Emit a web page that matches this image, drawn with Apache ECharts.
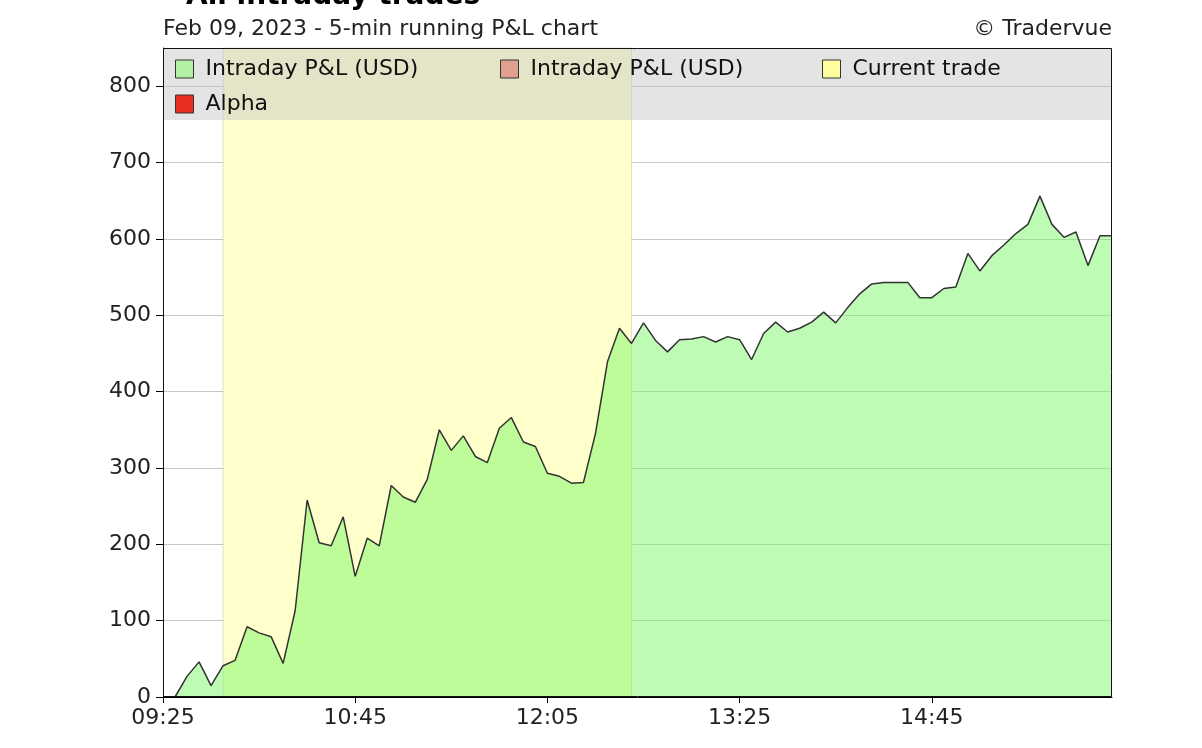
<!DOCTYPE html>
<html>
<head>
<meta charset="utf-8">
<script src="https://cdn.jsdelivr.net/npm/echarts@6/dist/echarts.min.js"></script>
<style>
html,body{margin:0;padding:0;background:#fff;}
#item-pnl{width:1202px;height:748px;}
</style>
</head>
<body>
<div id="item-pnl"></div>
<script>
var times = ['09:25','09:30','09:35','09:40','09:45','09:50','09:55',
	'10:00','10:05','10:10','10:15','10:20','10:25','10:30','10:35','10:40','10:45','10:50','10:55',
	'11:00','11:05','11:10','11:15','11:20','11:25','11:30','11:35','11:40','11:45','11:50','11:55',
	'12:00','12:05','12:10','12:15','12:20','12:25','12:30','12:35','12:40','12:45','12:50','12:55',
	'13:00','13:05','13:10','13:15','13:20','13:25','13:30','13:35','13:40','13:45','13:50','13:55',
	'14:00','14:05','14:10','14:15','14:20','14:25','14:30','14:35','14:40','14:45','14:50','14:55',
	'15:00','15:05','15:10','15:15','15:20','15:25','15:30','15:35','15:40','15:45','15:50','15:55',
	'16:00'];
var pnl = [null, 0, 27, 46, 15, 41, 48, 92, 84, 79, 44, 113, 258, 202, 198, 236, 158, 208, 198, 277,
	262, 255, 285, 350, 323, 342, 315, 307, 352, 366, 334, 328, 293, 289, 280, 281, 345, 439, 483, 463,
	490, 467, 452, 468, 469, 472, 465, 472, 468, 442, 476, 491, 478, 483, 491, 504, 490, 510, 528, 541,
	543, 543, 543, 523, 523, 535, 537, 581, 558, 578, 592, 607, 619, 656, 619, 602, 609, 565, 604, 604];
var alpha = [];
var tradeStart = '09:50';
var tradeEnd = '12:40';
var yTicks = [0, 850, 100]; // min, max, interval

var font = 'DejaVu Sans';
var G = {left: 163, top: 48, right: 90, bottom: 51};
var W = 1202, H = 748;

var chart = echarts.init(document.getElementById('item-pnl'));

function legendItem(name, color, left, top){
	return {
		data: [{name: name, itemStyle: {color: color, borderColor: '#333', borderWidth: 1}}],
		left: left, top: top, padding: 0, z: 20,
		icon: 'rect', itemWidth: 18, itemHeight: 18,
		selectedMode: false,
		textStyle: {fontFamily: font, fontSize: 22, color: '#111', lineHeight: 22, padding: [0, 0, 0, 7]}
	};
}

var option = {
	animation: false,
	grid: {left: G.left, top: G.top, right: G.right, bottom: G.bottom},
	legend: [
		legendItem('Intraday P&L (USD)', '#b2f0a6', 175, 58),
		legendItem('Intraday P&L (USD)', '#e0a090', 500, 58),
		legendItem('Current trade', '#ffffa0', 822, 58),
		legendItem('Alpha', '#e83020', 175, 93)
	],
	graphic: [
		{type: 'text', left: 186, top: -17, z: 30,
			style: {text: 'All intraday trades', font: 'bold 28px "DejaVu Sans"', fill: '#000'}},
		{type: 'text', left: 163, top: 18, z: 30,
			style: {text: 'Feb 09, 2023 - 5-min running P&L chart', font: '22px "DejaVu Sans"', fill: '#222'}},
		{type: 'text', right: G.right, top: 18, z: 30,
			style: {text: '\u00a9 Tradervue', font: '22px "DejaVu Sans"', fill: '#222'}},
		{type: 'rect', z: 10, silent: true,
			shape: {x: G.left, y: G.top, width: W - G.left - G.right, height: 72},
			style: {fill: 'rgba(195,195,195,0.45)'}},
		{type: 'rect', z: 25, silent: true,
			shape: {x: G.left + 0.5, y: G.top + 0.5, width: W - G.left - G.right - 1, height: H - G.top - G.bottom - 1},
			style: {fill: null, stroke: '#111', lineWidth: 1}}
	],
	xAxis: {
		type: 'category',
		data: times,
		boundaryGap: false,
		axisLine: {lineStyle: {color: '#000'}},
		axisTick: {interval: 15, length: 6, lineStyle: {color: '#000'}},
		axisLabel: {interval: 15, margin: 10, fontFamily: font, fontSize: 22, color: '#222'},
		splitLine: {show: false}
	},
	yAxis: {
		type: 'value',
		min: yTicks[0], max: yTicks[1], interval: yTicks[2],
		axisLine: {show: true, lineStyle: {color: '#000'}},
		axisTick: {show: true, length: 7, lineStyle: {color: '#000'}},
		axisLabel: {showMaxLabel: false, margin: 12, fontFamily: font, fontSize: 22, color: '#222'},
		splitLine: {lineStyle: {color: '#c8c8c8', width: 1}}
	},
	series: [{
		name: 'Current trade',
		type: 'line',
		z: 1,
		data: [],
		itemStyle: {color: '#ffffa0'},
		markArea: {
			silent: true,
			itemStyle: {color: '#ffffcc', borderColor: 'rgba(0,0,0,0.12)', borderWidth: 1},
			data: [[{xAxis: tradeStart}, {xAxis: tradeEnd}]]
		}
	}, {
		name: 'Intraday P&L (USD)',
		type: 'line',
		z: 2,
		data: pnl,
		symbol: 'none',
		itemStyle: {color: '#b2f0a6'},
		lineStyle: {color: '#333', width: 1.5},
		areaStyle: {color: 'rgba(110,248,90,0.45)', opacity: 1, origin: 'start'}
	}, {
		name: 'Alpha',
		type: 'line',
		data: alpha,
		itemStyle: {color: '#e83020'}
	}]
};
chart.setOption(option);
window.onresize = function(){
	chart.resize();
};
</script>
</body>
</html>
